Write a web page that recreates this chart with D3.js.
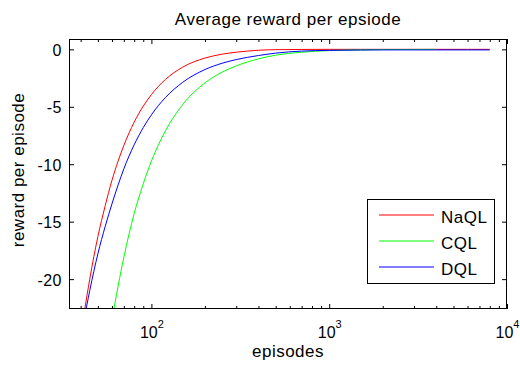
<!DOCTYPE html>
<html><head><meta charset="utf-8">
<script src="https://cdn.jsdelivr.net/npm/d3@7"></script>
<style>
body{margin:0;background:#fff}
svg{display:block}
text{font-family:"Liberation Sans",Arial,Helvetica,sans-serif;fill:#000}
</style>
</head><body>
<svg id="c" width="520" height="366"></svg>
<script>
// ---- data ----
const episodes = [40,42,45,50,55,60,65,70,80,90,100,120,150,200,250,300,400,500,700,1000,1500,2000,3000,4000,6000,8000];
const naql = [-24.9,-22.8,-20.0,-16.3,-13.6,-11.4,-9.72,-8.36,-6.34,-4.94,-3.94,-2.62,-1.55,-0.76,-0.42,-0.25,-0.08,-0.03,-0.01,0,0,0,0,0,0,0];
const cql  = [null,null,null,-32.4,-27.5,-23.6,-20.6,-18.1,-14.3,-11.7,-9.73,-7.09,-4.81,-2.92,-1.98,-1.44,-0.83,-0.51,-0.25,-0.11,-0.05,-0.02,-0.01,-0.005,null,null];
const dql  = [-25.3,-23.4,-21.0,-17.8,-15.4,-13.45,-11.8,-10.4,-8.31,-6.81,-5.70,-4.19,-2.87,-1.76,-1.21,-0.89,-0.54,-0.33,-0.15,-0.09,-0.06,-0.05,-0.05,-0.05,-0.05,-0.05];
const seriesNames = ["NaQL","CQL","DQL"];
const seriesColors = ["#ff0000","#00ff00","#0000ff"];
const yTicks = [0,-5,-10,-15,-20];
const xMajorTicks = [100,1000,10000];
const xMinorTicks = [40,50,60,70,80,90,200,300,400,500,600,700,800,900,2000,3000,4000,5000,6000,7000,8000,9000];
const xDomain = [34.4,10000];
const yDomain = [-22.6,0.9];
const titleText = "Average reward per epsiode";
const xLabelText = "episodes";
const yLabelText = "reward per episode";

// ---- layout ----
const L = 69, R = 507, T = 39, B = 309;
const svg = d3.select("#c");
const x = d3.scaleLog().domain(xDomain).range([L, R]);
const y = d3.scaleLinear().domain(yDomain).range([B, T]);

svg.append("defs").append("clipPath").attr("id","clip")
  .append("rect").attr("x",L).attr("y",T).attr("width",R-L).attr("height",B-T);

// lines
const seriesData = [naql, cql, dql];
const line = d3.line()
  .defined(d => d[1] !== null)
  .x(d => x(d[0])).y(d => y(d[1]))
  .curve(d3.curveMonotoneX);
const g = svg.append("g").attr("clip-path","url(#clip)");
seriesData.forEach((s,i) => {
  g.append("path")
    .datum(episodes.map((e,j) => [e, s[j]]))
    .attr("fill","none").attr("stroke",seriesColors[i]).attr("stroke-width",1)
    .attr("d", line);
});

// axes (ticks inward, MATLAB style)
function styleAxis(sel){
  sel.select(".domain").remove();
  sel.selectAll("line").attr("stroke","#000").attr("stroke-width",1);
  sel.selectAll("text").remove();
}
svg.append("g").attr("transform",`translate(0,${B})`)
  .call(d3.axisBottom(x).tickValues(xMajorTicks).tickSize(-5).tickFormat("")).call(styleAxis);
svg.append("g").attr("transform",`translate(0,${B})`)
  .call(d3.axisBottom(x).tickValues(xMinorTicks).tickSize(-3).tickFormat("")).call(styleAxis);
svg.append("g").attr("transform",`translate(0,${T})`)
  .call(d3.axisTop(x).tickValues(xMajorTicks).tickSize(-5).tickFormat("")).call(styleAxis);
svg.append("g").attr("transform",`translate(0,${T})`)
  .call(d3.axisTop(x).tickValues(xMinorTicks).tickSize(-3).tickFormat("")).call(styleAxis);
svg.append("g").attr("transform",`translate(${L},0)`)
  .call(d3.axisLeft(y).tickValues(yTicks).tickSize(-5).tickFormat("")).call(styleAxis);
svg.append("g").attr("transform",`translate(${R},0)`)
  .call(d3.axisRight(y).tickValues(yTicks).tickSize(-5).tickFormat("")).call(styleAxis);

// box
svg.append("rect").attr("x",L+0.5).attr("y",T+0.5).attr("width",R-L-1).attr("height",B-T-1)
  .attr("fill","none").attr("stroke","#000").attr("stroke-width",1);

// y tick labels
yTicks.forEach(v => {
  svg.append("text").attr("x",L-7).attr("y",y(v)).attr("dy","0.4em")
    .attr("text-anchor","end").attr("font-size",16).attr("letter-spacing","0.5px")
    .text(v===0?"0":"-"+Math.abs(v));
});
// x tick labels 10^n
xMajorTicks.forEach(v => {
  const t = svg.append("text").attr("x",x(v)+0.5).attr("y",338).attr("text-anchor","middle").attr("font-size",16);
  t.append("tspan").text("10");
  t.append("tspan").attr("dy",-10.5).attr("font-size",11).text(String(Math.round(Math.log10(v))));
});

// titles
svg.append("text").attr("x",(L+R)/2).attr("y",25).attr("text-anchor","middle").attr("font-size",17)
  .attr("letter-spacing","0.5px").text(titleText);
svg.append("text").attr("x",(L+R)/2).attr("y",357).attr("text-anchor","middle").attr("font-size",17)
  .attr("letter-spacing","0.5px").text(xLabelText);
svg.append("text").attr("transform",`translate(24,${(T+B)/2 - 4}) rotate(-90)`).attr("text-anchor","middle")
  .attr("font-size",17).attr("letter-spacing","0.5px").text(yLabelText);

// legend
const lg = svg.append("g");
lg.append("rect").attr("x",367.5).attr("y",199.5).attr("width",127).attr("height",84)
  .attr("fill","#fff").attr("stroke","#000").attr("stroke-width",1);
seriesNames.forEach((n,i) => {
  const yy = 215 + i*26;
  lg.append("line").attr("x1",379).attr("x2",434).attr("y1",yy).attr("y2",yy)
    .attr("stroke",seriesColors[i]).attr("stroke-width",1);
  lg.append("text").attr("x",441).attr("y",yy).attr("dy","0.45em").attr("font-size",17)
    .attr("letter-spacing","0.5px").text(n);
});
</script>
</body></html>
